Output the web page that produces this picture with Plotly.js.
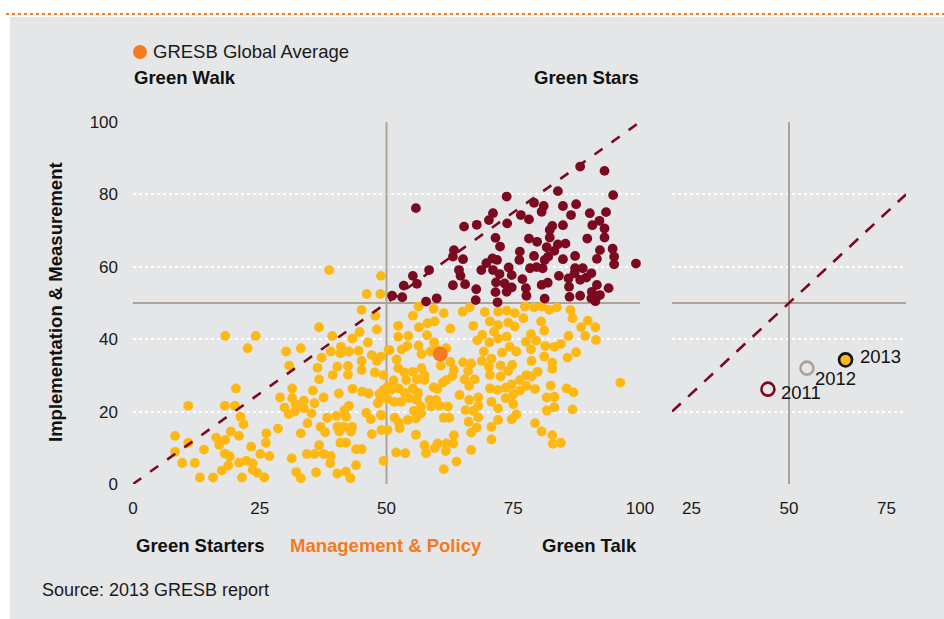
<!DOCTYPE html>
<html>
<head>
<meta charset="utf-8">
<script src="https://cdn.plot.ly/plotly-3.0.1.min.js"></script>
<style>html,body{margin:0;padding:0;background:#fff}#chart{width:944px;height:619px}</style>
</head>
<body>
<div id="chart"></div>
<script>
// ---------- DATA ----------
const xTicks = [0, 25, 50, 75, 100];
const x2Ticks = [25, 50, 75];
const yTicks = [0, 20, 40, 60, 80, 100];

// Green Stars (dark red) – Management & Policy vs Implementation & Measurement
const starsX = [55.8,73.7,88.2,93.0,94.7,83.8,79.1,81.0,80.6,71.0,70.2,73.8,76.5,78.1,84.8,87.4,86.4,90.1,93.3,92.0,
90.6,93.0,84.8,67.8,65.3,82.2,82.7,82.2,71.5,78.1,79.7,72.4,89.6,93.0,83.8,85.3,81.6,83.1,76.3,76.2,
79.1,81.2,81.9,84.8,87.2,92.1,94.6,94.9,91.5,94.9,99.2,63.3,63.1,65.1,70.9,71.8,69.7,74.1,68.7,71.0,
72.3,74.7,78.3,79.6,80.8,87.2,88.7,87.1,90.4,89.4,84.0,85.9,76.8,71.6,73.3,74.7,73.7,71.5,77.5,77.6,
80.6,81.8,86.0,88.2,91.5,93.8,92.1,90.5,90.4,91.2,88.2,86.1,81.2,71.9,67.7,67.6,65.5,63.1,64.6,64.3,
58.4,55.2,56.0,53.4,51.1,53.1,57.8,59.9];
const starsY = [76.2,79.4,87.7,86.5,79.8,80.9,77.7,76.8,75.2,74.8,72.9,72.0,74.3,73.1,76.8,77.3,74.3,74.8,75.1,72.7,
71.5,70.6,71.5,71.6,71.1,70.2,71.3,68.1,68.0,67.8,66.9,65.6,67.8,68.1,66.2,66.4,65.4,64.4,64.2,61.9,
63.0,61.9,62.8,62.1,63.0,64.6,65.0,62.8,62.2,60.7,60.9,64.6,62.8,62.1,62.3,61.9,61.0,59.8,59.1,59.1,
58.0,57.7,59.6,59.9,59.6,59.6,59.6,58.2,58.2,57.0,57.5,56.8,56.6,55.7,55.4,54.3,53.1,53.0,54.1,52.0,
55.0,55.6,54.5,56.4,55.0,54.1,52.2,53.1,51.3,50.5,52.0,51.7,51.2,50.2,53.8,50.8,55.2,54.9,57.5,59.1,
59.1,57.5,55.3,54.8,52.0,51.6,50.4,51.3];

// Other participants (yellow)
const othersX = [45.1,47.8,36.7,48.1,44.7,43.3,39.3,46.3,41.0,39.0,40.9,42.6,44.5,30.2,33.1,24.2,18.2,22.6,37.2,30.8,
36.4,40.3,42.4,39.4,42.4,36.7,45.1,45.1,47.1,48.9,48.1,50.4,47.7,49.4,20.3,10.9,18.1,20.1,21.2,21.8,
8.3,10.9,8.3,9.7,12.2,13.2,15.8,14.0,16.4,17.0,18.2,19.3,20.9,18.1,19.1,23.3,25.1,26.9,26.3,26.2,
20.9,22.4,23.6,18.8,17.5,23.6,24.5,25.9,21.5,28.6,31.4,29.0,31.4,29.9,30.7,31.9,32.1,33.7,33.7,35.2,
35.5,35.8,37.6,33.1,34.4,37.0,37.9,38.3,40.1,41.7,42.6,42.0,40.3,41.5,43.2,40.7,43.0,40.6,43.3,45.2,
46.5,46.0,46.9,49.0,48.3,49.0,48.6,36.7,40.9,42.0,44.0,45.1,31.3,34.3,35.8,37.6,39.0,38.9,32.2,33.1,
36.1,40.3,42.0,42.9,44.0,47.1,49.4,38.7,48.9,46.1,48.8,
52.3,54.3,56.4,58.1,59.5,62.6,59.4,56.3,58.0,52.3,54.1,53.0,50.6,52.0,55.2,56.3,59.3,61.3,56.9,58.7,
60.0,61.8,62.6,63.3,60.7,52.3,53.5,55.2,56.9,57.5,56.0,53.9,51.4,50.2,49.4,50.9,52.4,53.6,55.2,56.2,
54.5,52.9,51.5,50.2,56.0,57.5,59.3,60.0,61.1,61.8,63.0,58.5,59.8,58.8,60.5,62.1,56.8,55.4,56.8,55.8,
54.2,52.4,51.6,52.6,50.2,49.0,48.9,55.8,57.5,57.8,59.5,60.1,61.8,61.7,63.2,63.3,61.3,62.4,61.3,63.8,
51.9,53.7,
65.0,66.4,69.4,72.0,73.7,75.3,77.0,77.3,79.1,80.7,82.1,83.6,86.3,86.7,80.5,70.4,72.0,74.0,75.3,71.2,
68.9,67.9,67.1,70.3,72.0,73.7,74.3,72.8,75.6,77.5,78.5,79.5,78.5,81.1,81.3,83.1,84.4,85.9,87.4,89.2,
88.4,89.7,91.2,91.3,85.7,81.1,82.7,82.7,78.6,79.8,78.6,77.6,76.3,74.7,73.5,72.5,74.0,74.8,72.5,70.2,
70.4,69.2,70.7,68.8,66.7,65.1,66.1,67.4,66.3,65.4,64.4,66.3,68.1,68.1,67.1,65.6,66.2,68.1,67.8,66.7,
70.7,72.0,73.5,75.0,75.0,76.3,77.6,79.3,74.7,75.6,72.0,70.7,70.7,71.9,70.4,66.7,82.4,81.6,83.1,81.6,
83.1,85.5,86.9,86.7,79.3,80.6,82.7,82.8,84.4,96.1];
const othersY = [48.1,46.5,43.3,42.7,42.0,40.2,40.9,39.1,37.9,36.6,36.1,36.6,36.8,36.6,37.5,40.9,40.9,37.5,34.9,32.7,
32.1,32.4,32.6,30.1,30.2,28.9,34.0,31.5,35.6,35.2,34.0,37.0,30.8,30.1,26.4,21.6,21.6,21.6,18.6,16.5,
13.3,11.4,8.9,5.8,5.8,1.8,1.8,9.5,12.8,10.8,12.2,14.5,13.3,8.4,7.6,10.3,8.3,7.7,14.0,11.4,
5.9,6.4,5.7,5.1,3.7,3.9,3.1,1.8,1.8,15.3,26.4,23.9,23.7,21.1,19.3,20.0,21.9,23.0,20.9,19.5,
25.8,22.3,23.9,14.0,16.8,15.8,14.3,18.3,18.8,20.4,21.6,18.6,15.8,15.8,15.8,14.5,14.5,25.0,26.3,25.5,
25.0,19.7,17.9,18.9,22.3,23.7,24.9,10.7,11.4,11.4,9.6,9.6,7.1,8.3,8.3,8.3,7.7,5.7,3.3,1.6,
3.2,2.9,3.4,1.6,5.2,13.8,6.4,59.1,57.5,52.5,52.5,
43.7,40.9,43.3,44.4,44.9,42.9,39.1,38.2,41.1,40.7,38.1,37.2,37.0,34.4,46.5,49.0,48.4,47.2,35.9,36.6,
37.0,37.5,33.7,31.5,32.7,32.0,30.8,31.0,32.0,30.1,28.9,28.7,28.6,26.9,26.0,26.0,26.4,25.2,26.4,25.2,
23.7,22.7,22.7,23.5,23.2,28.7,26.7,26.2,28.0,28.7,29.8,23.2,23.2,21.4,21.6,21.4,21.4,20.2,19.5,18.1,
17.7,17.0,18.3,15.4,14.9,14.9,19.1,13.6,10.7,8.5,9.9,11.2,11.2,9.1,11.2,13.5,18.3,18.3,4.1,6.2,
8.7,8.5,
47.6,48.8,47.5,47.6,47.9,47.2,45.8,49.0,48.8,49.0,48.1,48.8,48.1,45.8,44.9,44.9,43.9,44.6,43.5,42.1,
41.2,39.7,43.7,39.1,40.2,40.7,37.9,36.3,36.6,39.3,41.4,39.6,37.2,42.4,38.1,37.9,38.7,40.9,36.4,40.9,
43.3,45.1,43.3,39.8,34.9,35.2,33.5,31.8,34.0,31.0,29.7,30.1,28.7,27.5,26.6,29.7,31.2,32.9,32.7,32.4,
30.1,36.6,34.6,34.0,33.3,33.6,31.2,28.9,27.1,28.9,24.6,23.2,23.9,21.6,20.2,20.4,17.2,18.4,15.6,14.2,
22.7,20.9,23.7,24.8,22.1,25.8,27.1,26.2,17.9,19.2,17.7,15.8,12.3,26.0,26.4,9.4,27.2,23.9,24.1,20.3,
21.2,26.4,25.3,20.6,16.8,14.5,13.5,11.1,11.4,28.0];

// GRESB Global Average
const avgX = [60.6];
const avgY = [35.9];

// Yearly averages (right panel)
const years = ['2011', '2012', '2013'];
const yearX = [44.6, 54.6, 64.5];
const yearY = [26.2, 32.0, 34.3];

// ---------- STYLE ----------
const FONT = 'Liberation Sans, Arial, Helvetica, sans-serif';
const RED = '#7b0a20';
const YEL = '#fdb813';
const ORG = '#f47a20';
const LINE = '#aca297';
const BG = '#e5e6e7';
const yearLabelShift = [[11, -3], [6, -10], [12, 3]];

const traces = [
  {type:'scatter', mode:'markers', x: othersX, y: othersY, xaxis:'x', yaxis:'y',
   marker:{color:YEL, size:9.8}, cliponaxis:false, hoverinfo:'x+y'},
  {type:'scatter', mode:'markers', x: starsX, y: starsY, xaxis:'x', yaxis:'y',
   marker:{color:RED, size:9.8}, cliponaxis:false, hoverinfo:'x+y'},
  {type:'scatter', mode:'markers', x: avgX, y: avgY, xaxis:'x', yaxis:'y',
   marker:{color:ORG, size:15}, cliponaxis:false, name:'GRESB Global Average'},
  {type:'scatter', mode:'markers', x: yearX, y: yearY, xaxis:'x2', yaxis:'y2', text: years,
   marker:{size:13, color:[BG, BG, YEL], line:{width:2.6, color:[RED, '#aaa199', '#111']}},
   cliponaxis:false}
];

const gridAxis = {
  showgrid:true, gridcolor:'#ffffff', gridwidth:2, griddash:'dot',
  zeroline:false, showline:false, ticks:'', fixedrange:true
};

const annotations = [
  {xref:'paper', yref:'paper', x:151/944, y:(619-52)/619, xanchor:'left', yanchor:'middle', showarrow:false,
   text:'GRESB Global Average', font:{size:18.5, color:'#1a1a1a'}},
  {xref:'paper', yref:'paper', x:132/944, y:(619-77)/619, xanchor:'left', yanchor:'middle', showarrow:false,
   text:'<b>Green Walk</b>', font:{size:18.5, color:'#111'}},
  {xref:'paper', yref:'paper', x:641/944, y:(619-77)/619, xanchor:'right', yanchor:'middle', showarrow:false,
   text:'<b>Green Stars</b>', font:{size:18.5, color:'#111'}},
  {xref:'paper', yref:'paper', x:134/944, y:(619-545)/619, xanchor:'left', yanchor:'middle', showarrow:false,
   text:'<b>Green Starters</b>', font:{size:18.5, color:'#111'}},
  {xref:'paper', yref:'paper', x:386/944, y:(619-545)/619, xanchor:'center', yanchor:'middle', showarrow:false,
   text:'<b>Management &amp; Policy</b>', font:{size:18.5, color:ORG}},
  {xref:'paper', yref:'paper', x:639/944, y:(619-545)/619, xanchor:'right', yanchor:'middle', showarrow:false,
   text:'<b>Green Talk</b>', font:{size:18.5, color:'#111'}},
  {xref:'paper', yref:'paper', x:40/944, y:(619-590)/619, xanchor:'left', yanchor:'middle', showarrow:false,
   text:'Source: 2013 GRESB report', font:{size:18, color:'#1a1a1a'}},
  {xref:'paper', yref:'paper', x:55/944, y:(619-302)/619, xanchor:'center', yanchor:'middle', showarrow:false,
   textangle:-90, text:'<b>Implementation &amp; Measurement</b>', font:{size:18.5, color:'#111'}}
];
years.forEach((yr, i) => {
  annotations.push({xref:'x2', yref:'y2', x:yearX[i], y:yearY[i], xanchor:'left', yanchor:'middle',
    xshift:yearLabelShift[i][0], yshift:yearLabelShift[i][1], showarrow:false, text:yr,
    font:{size:18.5, color:'#111'}});
});

const layout = {
  width:944, height:619,
  margin:{l:0, r:0, t:0, b:0},
  paper_bgcolor:'#ffffff',
  plot_bgcolor:'rgba(0,0,0,0)',
  showlegend:false,
  font:{family:FONT, size:17, color:'#1a1a1a'},
  xaxis:{domain:[133/944, 640/944], range:[0,100], tickvals:xTicks, showgrid:false,
         zeroline:false, showline:false, ticks:'', ticklabelstandoff:12, fixedrange:true,
         anchor:'y'},
  yaxis:Object.assign({}, gridAxis, {domain:[135/619, 497/619], range:[0,100], tickvals:yTicks,
         ticklabelstandoff:14, anchor:'x'}),
  xaxis2:{domain:[672/944, 906/944], range:[20,80], tickvals:x2Ticks, showgrid:false,
          zeroline:false, showline:false, ticks:'', ticklabelstandoff:12, fixedrange:true,
          anchor:'y2'},
  yaxis2:Object.assign({}, gridAxis, {domain:[135/619, 497/619], range:[0,100], tickvals:yTicks,
          showticklabels:false, anchor:'x2'}),
  shapes:[
    {type:'rect', xref:'paper', yref:'paper', x0:10/944, x1:1, y0:0, y1:(619-17)/619,
     fillcolor:BG, line:{width:0}, layer:'below'},
    {type:'line', xref:'paper', yref:'paper', x0:6/944, x1:1, y0:(619-14)/619, y1:(619-14)/619,
     line:{color:ORG, width:2, dash:'dot'}},
    {type:'circle', xref:'paper', yref:'paper', x0:133/944, x1:147/944, y0:(619-59)/619, y1:(619-45)/619,
     fillcolor:ORG, line:{width:0}},
    {type:'line', xref:'x', yref:'y', x0:50, x1:50, y0:-0.5, y1:100, line:{color:LINE, width:2}, layer:'between'},
    {type:'line', xref:'x', yref:'y', x0:-0.5, x1:100, y0:50, y1:50, line:{color:LINE, width:2}, layer:'between'},
    {type:'line', xref:'x2', yref:'y2', x0:50, x1:50, y0:-0.5, y1:100, line:{color:LINE, width:2}, layer:'between'},
    {type:'line', xref:'x2', yref:'y2', x0:20, x1:80, y0:50, y1:50, line:{color:LINE, width:2}, layer:'between'},
    {type:'line', xref:'x', yref:'y', x0:0, x1:100, y0:0, y1:100, line:{color:RED, width:2.6, dash:'10px,11px'}, layer:'above'},
    {type:'line', xref:'x2', yref:'y2', x0:20, x1:80, y0:20, y1:80, line:{color:RED, width:2.6, dash:'12px,10px'}, layer:'above'}
  ],
  annotations: annotations
};

Plotly.newPlot('chart', traces, layout, {displayModeBar:false, staticPlot:true});
</script>
</body>
</html>
